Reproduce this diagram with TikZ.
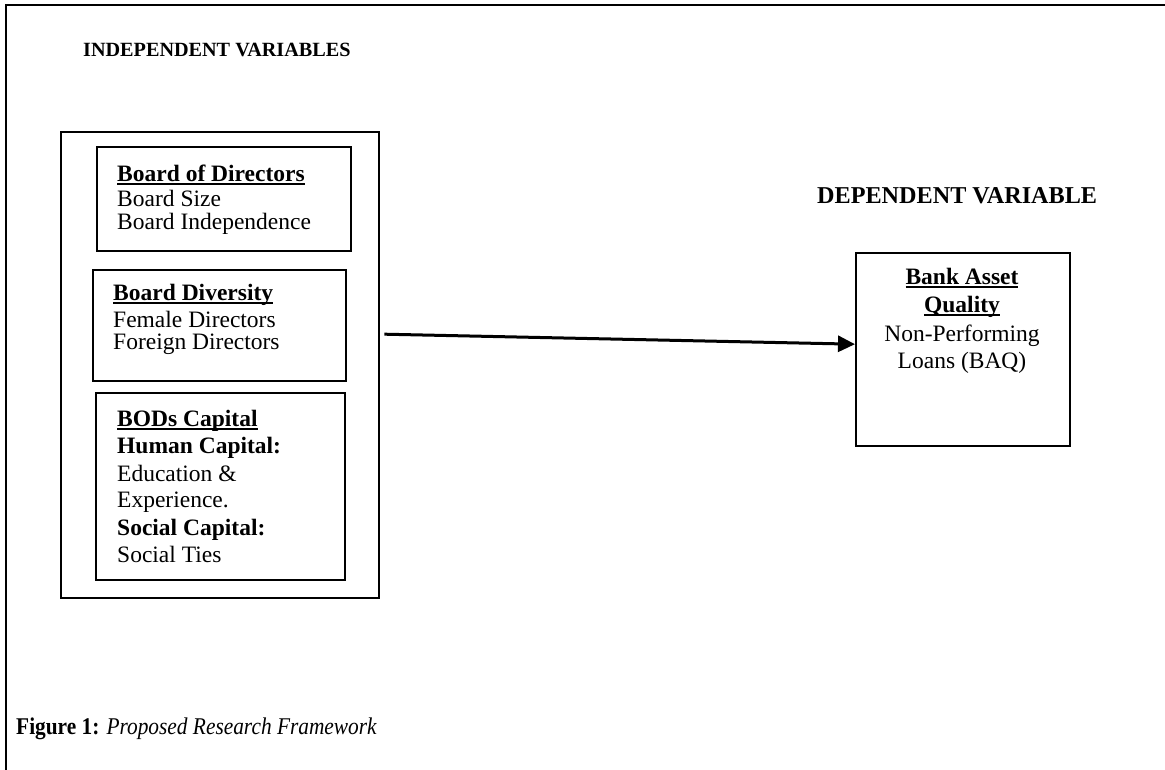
\documentclass[tikz,border=0pt]{standalone}
\usepackage{fontspec}
\setmainfont{Liberation Serif}
\usetikzlibrary{arrows.meta}
\newcommand\myul[1]{\setbox0\hbox{#1}\rlap{\rule[-3.4pt]{\wd0}{2.4pt}}\box0}
\tikzset{
  frame/.style={line width=2.6pt},
  vbox/.style={draw, line width=2.4pt, inner sep=0pt, anchor=north west},
  txt/.style={inner sep=0pt, anchor=base west, font=\fontsize{23.5}{26}\selectfont},
  btxt/.style={txt, font=\fontsize{23.5}{26}\selectfont\bfseries},
  ctxt/.style={inner sep=0pt, anchor=base, font=\fontsize{23.5}{26}\selectfont},
  bctxt/.style={ctxt, font=\fontsize{23.5}{26}\selectfont\bfseries},
  hdr/.style={inner sep=0pt, anchor=base west},
  arr/.style={line width=3pt, -{Triangle[length=17pt,width=16pt]}}
}
\begin{document}
\begin{tikzpicture}[x=1pt,y=1pt]
\useasboundingbox (0,0) rectangle (1165,770);
% page frame
\coordinate (tl) at (6,765);
\coordinate (tr) at (1165,765);
\coordinate (bl) at (6,0);
\draw[frame] (bl) -- (tl) -- (tr);
% headers
\node[hdr, font=\fontsize{20.2}{24}\selectfont\bfseries] (indep) at (83,713) {INDEPENDENT VARIABLES};
\node[hdr, font=\fontsize{24.2}{28}\selectfont\bfseries] (dep) at (817,566) {DEPENDENT VARIABLE};
% outer box
\node[vbox, minimum width=318pt, minimum height=466pt] (iv) at (60,639) {};
% box 1
\node[vbox, minimum width=254pt, minimum height=104pt] (b1) at (96,624) {};
\node[btxt] (b1a) at (117,588) {\myul{Board of Directors}};
\node[txt] (b1b) at (117,563) {Board Size};
\node[txt] (b1c) at (117,540) {Board Independence};
% box 2
\node[vbox, minimum width=253pt, minimum height=111pt] (b2) at (92,501) {};
\node[btxt] (b2a) at (113,469) {\myul{Board Diversity}};
\node[txt] (b2b) at (113,442) {Female Directors};
\node[txt] (b2c) at (113,420) {Foreign Directors};
% box 3
\node[vbox, minimum width=249pt, minimum height=187pt] (b3) at (95,378) {};
\node[btxt] (b3a) at (117,343) {\myul{BODs Capital}};
\node[btxt] (b3b) at (117,316) {Human Capital:};
\node[txt] (b3c) at (117,288) {Education \&};
\node[txt] (b3d) at (117,262) {Experience.};
\node[btxt] (b3e) at (117,234) {Social Capital:};
\node[txt] (b3f) at (117,207) {Social Ties};
% dependent box
\node[vbox, minimum width=214pt, minimum height=193pt] (baq) at (855,518) {};
\node[bctxt] (q1) at (962,485) {\myul{Bank Asset}};
\node[bctxt] (q2) at (962,457) {\myul{Quality}};
\node[ctxt] (q3) at (962,428) {Non-Performing};
\node[ctxt] (q4) at (962,401) {Loans (BAQ)};
% arrow
\draw[arr] ([xshift=4pt,yshift=31pt]iv.east) -- ([yshift=5.5pt]baq.west);
% caption
\node[hdr, font=\fontsize{24}{28}\selectfont] (cap) at (16,35) {\scalebox{0.89}[1]{\textbf{Figure 1:} \textit{Proposed Research Framework}}};
\end{tikzpicture}
\end{document}
